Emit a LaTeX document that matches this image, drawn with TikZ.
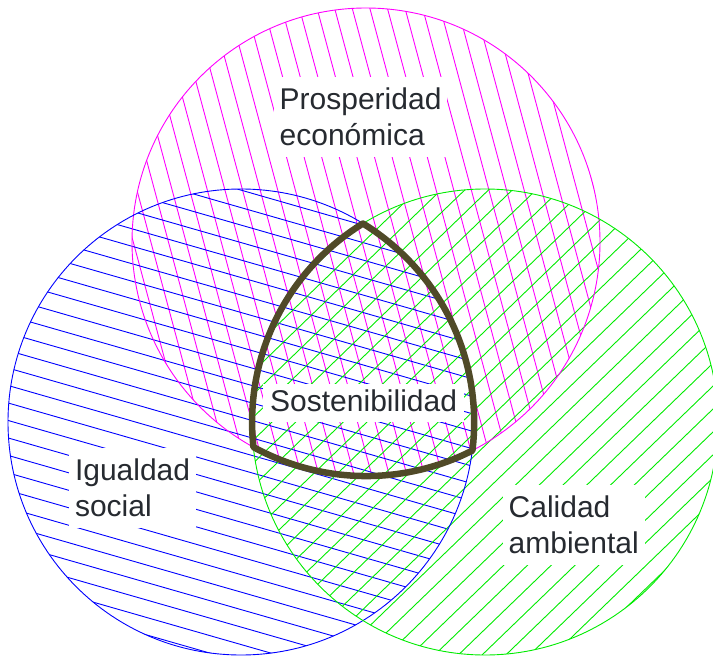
\documentclass[tikz,border=0pt]{standalone}
\usepackage{fontspec}
\setmainfont{Liberation Sans}
\definecolor{mag}{RGB}{255,0,255}
\definecolor{blu}{RGB}{0,0,255}
\definecolor{grn}{RGB}{0,235,0}
\definecolor{olivedark}{RGB}{80,74,40}
\definecolor{txt}{RGB}{38,42,48}
\newcommand\hatchcirc[8]{% cx cy r angle spacing px py color
  \begin{scope}
    \clip (#1,#2) circle (#3);
    \pgfmathsetmacro\hdx{cos(#4)}\pgfmathsetmacro\hdy{sin(#4)}
    \pgfmathsetmacro\hnx{-sin(#4)}\pgfmathsetmacro\hny{cos(#4)}
    \foreach \k in {-60,...,60}{
      \draw[hatch,#8] ({#6+\k*#5*\hnx-1000*\hdx},{#7+\k*#5*\hny-1000*\hdy}) -- ({#6+\k*#5*\hnx+1000*\hdx},{#7+\k*#5*\hny+1000*\hdy});
    }
  \end{scope}}
\begin{document}
\begin{tikzpicture}[x=1pt,y=-1pt,
  hatch/.style={line width=0.9pt},
  ring/.style={line width=0.9pt},
  lab/.style={fill=white, text=txt, font=\fontsize{30}{36}\selectfont, align=left, inner xsep=6pt, inner ysep=11pt, anchor=north west}]
\path[use as bounding box] (0,0) rectangle (713,656);
\clip (0,0) rectangle (713,656);
% hatching
\hatchcirc{366}{242}{234}{75}{17}{318.3}{13}{mag}
\hatchcirc{241}{422}{233}{16}{16.8}{15}{370}{blu}
\hatchcirc{485}{422}{233}{-44}{16.5}{680}{395}{grn}
% outlines
\draw[ring,mag] (366,242) circle (234);
\draw[ring,blu] (241,422) circle (233);
\draw[ring,grn] (485,422) circle (233);
% intersection outline
\draw[olivedark, line width=6.5pt, line join=round]
  (363,223.5) arc[start angle=238.4, end angle=173.8, radius=233]
  arc[start angle=118.8, end angle=63.0, radius=234]
  arc[start angle=7.0, end angle=-58.4, radius=233] -- cycle;
% labels
\node[lab] (pros) at (273.5,77) {Prosperidad\\económica};
\node[lab] (igu) at (68.8,448) {Igualdad\\social};
\node[lab] (cal) at (502.5,485) {Calidad\\ambiental};
\node[fill=white, text=txt, font=\fontsize{30}{36}\selectfont, inner xsep=7pt, inner ysep=6pt, text height=22pt, text depth=4pt, anchor=base west] (sost) at (263,411.7) {Sostenibilidad};
\end{tikzpicture}
\end{document}
